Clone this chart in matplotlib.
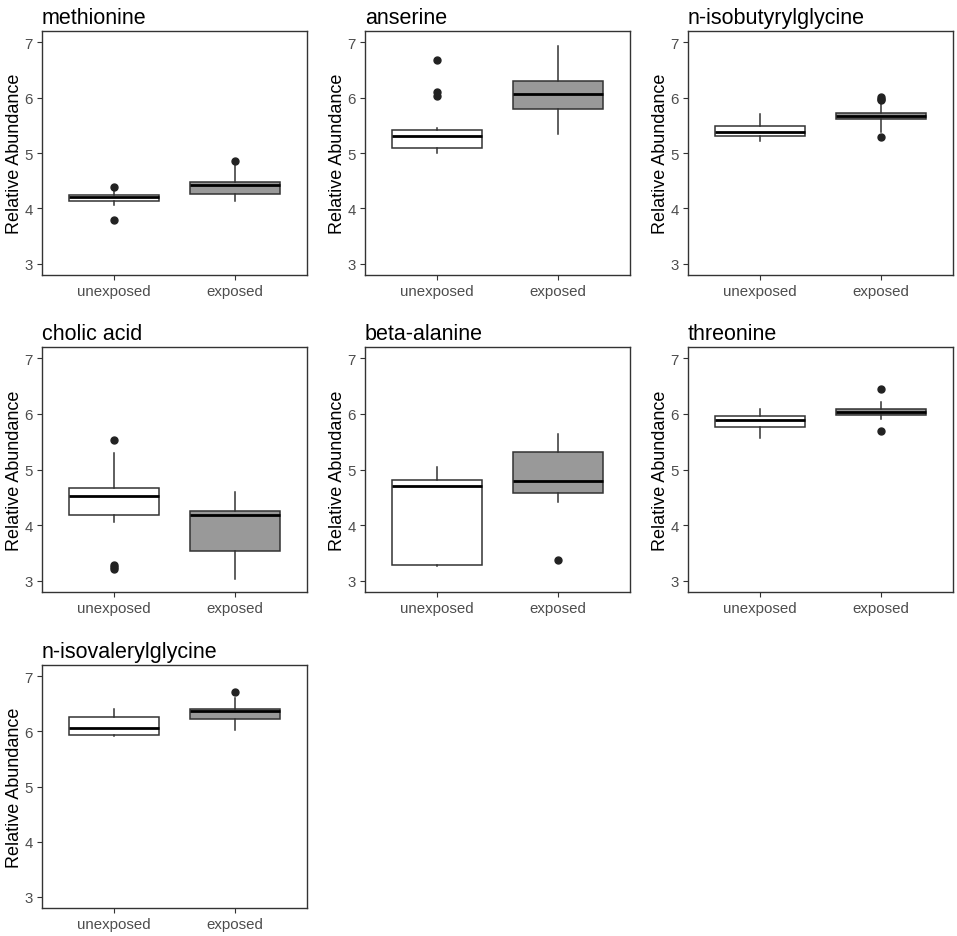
import matplotlib
matplotlib.use("Agg")
import matplotlib.pyplot as plt

plt.rcParams['font.family'] = ['Liberation Sans', 'DejaVu Sans']

# box statistics: (whislo, q1, med, q3, whishi)
metabolites = ["methionine", "anserine", "n-isobutyrylglycine", "cholic acid",
               "beta-alanine", "threonine", "n-isovalerylglycine"]
groups = ["unexposed", "exposed"]

unexposed_stats = [
    (4.07, 4.14, 4.20, 4.24, 4.33),
    (5.00, 5.09, 5.30, 5.42, 5.45),
    (5.22, 5.31, 5.37, 5.49, 5.71),
    (4.06, 4.18, 4.52, 4.66, 5.30),
    (3.26, 3.29, 4.70, 4.81, 5.05),
    (5.57, 5.76, 5.89, 5.96, 6.08),
    (5.91, 5.94, 6.06, 6.25, 6.41),
]
exposed_stats = [
    (4.14, 4.26, 4.42, 4.48, 4.78),
    (5.35, 5.80, 6.07, 6.30, 6.93),
    (5.38, 5.61, 5.67, 5.73, 5.92),
    (3.03, 3.54, 4.19, 4.26, 4.60),
    (4.41, 4.57, 4.80, 5.31, 5.63),
    (5.90, 5.98, 6.04, 6.09, 6.22),
    (6.02, 6.22, 6.36, 6.40, 6.60),
]
unexposed_outliers = [
    [4.39, 3.80],
    [6.02, 6.10, 6.68],
    [],
    [5.53, 3.22, 3.25, 3.28],
    [],
    [],
    [],
]
exposed_outliers = [
    [4.85],
    [],
    [5.28, 5.96, 5.98, 6.01],
    [],
    [3.38],
    [5.69, 6.44],
    [6.71],
]

W, H = 957, 937
fig = plt.figure(figsize=(W / 100, H / 100), dpi=100)

# axes rectangles in pixels: left, top, right, bottom
col_x = [(42, 307), (365, 630), (688, 953)]
row_y = [(32, 276), (348, 593), (666, 909)]


def make_stats(s, fl):
    return dict(whislo=s[0], q1=s[1], med=s[2], q3=s[3], whishi=s[4], fliers=fl)


for i, name in enumerate(metabolites):
    r, c = divmod(i, 3)
    x0, x1 = col_x[c]
    y0, y1 = row_y[r]
    ax = fig.add_axes([x0 / W, 1 - y1 / H, (x1 - x0) / W, (y1 - y0) / H])

    stats = [make_stats(unexposed_stats[i], unexposed_outliers[i]),
             make_stats(exposed_stats[i], exposed_outliers[i])]
    bp = ax.bxp(stats, positions=[1, 2], widths=0.75, patch_artist=True,
                showcaps=False,
                boxprops=dict(edgecolor='#333333', linewidth=1.1),
                whiskerprops=dict(color='#333333', linewidth=1.1),
                medianprops=dict(color='black', linewidth=2.0),
                flierprops=dict(marker='o', markerfacecolor='#222222',
                                markeredgecolor='#222222', markersize=5))
    bp['boxes'][0].set_facecolor('white')
    bp['boxes'][1].set_facecolor('#999999')

    ax.set_xlim(0.4, 2.6)
    ax.set_ylim(2.8, 7.2)
    ax.set_yticks([3, 4, 5, 6, 7])
    ax.set_xticks([1, 2])
    ax.set_xticklabels(groups)
    ax.tick_params(axis='both', labelsize=10.8, colors='#333333',
                   labelcolor='#4D4D4D', length=3.5, width=0.8, pad=3)
    for sp in ax.spines.values():
        sp.set_color('#333333')
        sp.set_linewidth(1.0)
    ax.set_ylabel("Relative Abundance", fontsize=13, color='black', labelpad=1)
    ax.set_title(name, fontsize=15.5, loc='left', color='black', pad=6)

fig.savefig("out.png", dpi=100, facecolor='white')
